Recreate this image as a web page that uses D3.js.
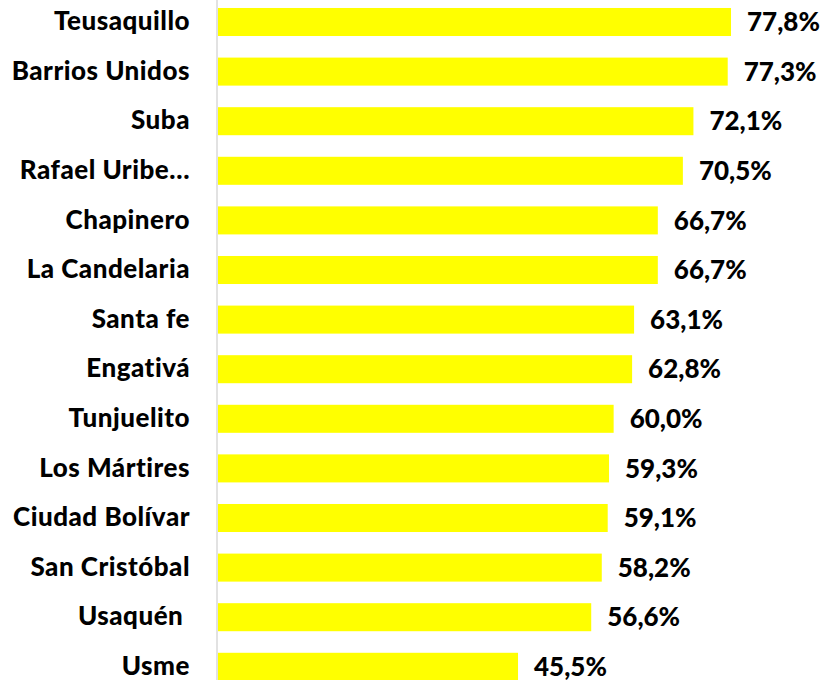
<!DOCTYPE html>
<html>
<head>
<meta charset="utf-8">
<script src="https://cdn.jsdelivr.net/npm/d3@7"></script>
<style>
  html, body { margin: 0; padding: 0; background: #fff; }
  svg text { font-family: Lato, "Open Sans", sans-serif; font-weight: 900; fill: #000; white-space: pre; }
</style>
</head>
<body>
<svg id="chart" width="825" height="680"></svg>
<script>
// localidades, sorted as in the picture
var localidades = ['Teusaquillo', 'Barrios Unidos', 'Suba', 'Rafael Uribe\u2026', 'Chapinero',
  'La Candelaria', 'Santa fe', 'Engativá', 'Tunjuelito', 'Los Mártires', 'Ciudad Bolívar',
  'San Cristóbal', 'Usaquén ', 'Usme'];
var porcentajes = [77.8, 77.3, 72.1, 70.5, 66.7, 66.7, 63.1, 62.8, 60.0, 59.3, 59.1, 58.2, 56.6, 45.5];

var data = localidades.map(function(d, i) { return { name: d, value: porcentajes[i] }; });

var svg = d3.select('#chart');

var x = d3.scaleLinear().domain([0, 100]).range([218, 877.4]);
var y = d3.scaleBand()
  .domain(localidades)
  .range([-2.8, 691.6])
  .paddingInner(0.435)
  .paddingOuter(0.2175);

var fmt = function(v) { return d3.format('.1f')(v).replace('.', ',') + '%'; };

// vertical axis line
svg.append('line')
  .attr('x1', 217).attr('x2', 217)
  .attr('y1', 0).attr('y2', 680)
  .attr('stroke', '#d9d9d9')
  .attr('stroke-width', 1.5);

var bars = svg.append('g');

bars.selectAll('rect')
  .data(data)
  .enter().append('rect')
  .attr('x', x(0))
  .attr('y', function(d) { return y(d.name); })
  .attr('width', function(d) { return x(d.value) - x(0); })
  .attr('height', y.bandwidth())
  .attr('fill', '#ffff00');

svg.append('g').selectAll('text')
  .data(data)
  .enter().append('text')
  .attr('x', 190)
  .attr('y', function(d) { return y(d.name) + y.bandwidth() / 2 - 1; })
  .attr('dy', '0.35em')
  .attr('text-anchor', 'end')
  .style('font-size', '26px')
  .style('letter-spacing', '0.5px')
  .text(function(d) { return d.name; });

svg.append('g').selectAll('text')
  .data(data)
  .enter().append('text')
  .attr('x', function(d) { return x(d.value) + 16; })
  .attr('y', function(d) { return y(d.name) + y.bandwidth() / 2; })
  .attr('dy', '0.35em')
  .style('font-size', '26px')
  .text(function(d) { return fmt(d.value); });
</script>
</body>
</html>
